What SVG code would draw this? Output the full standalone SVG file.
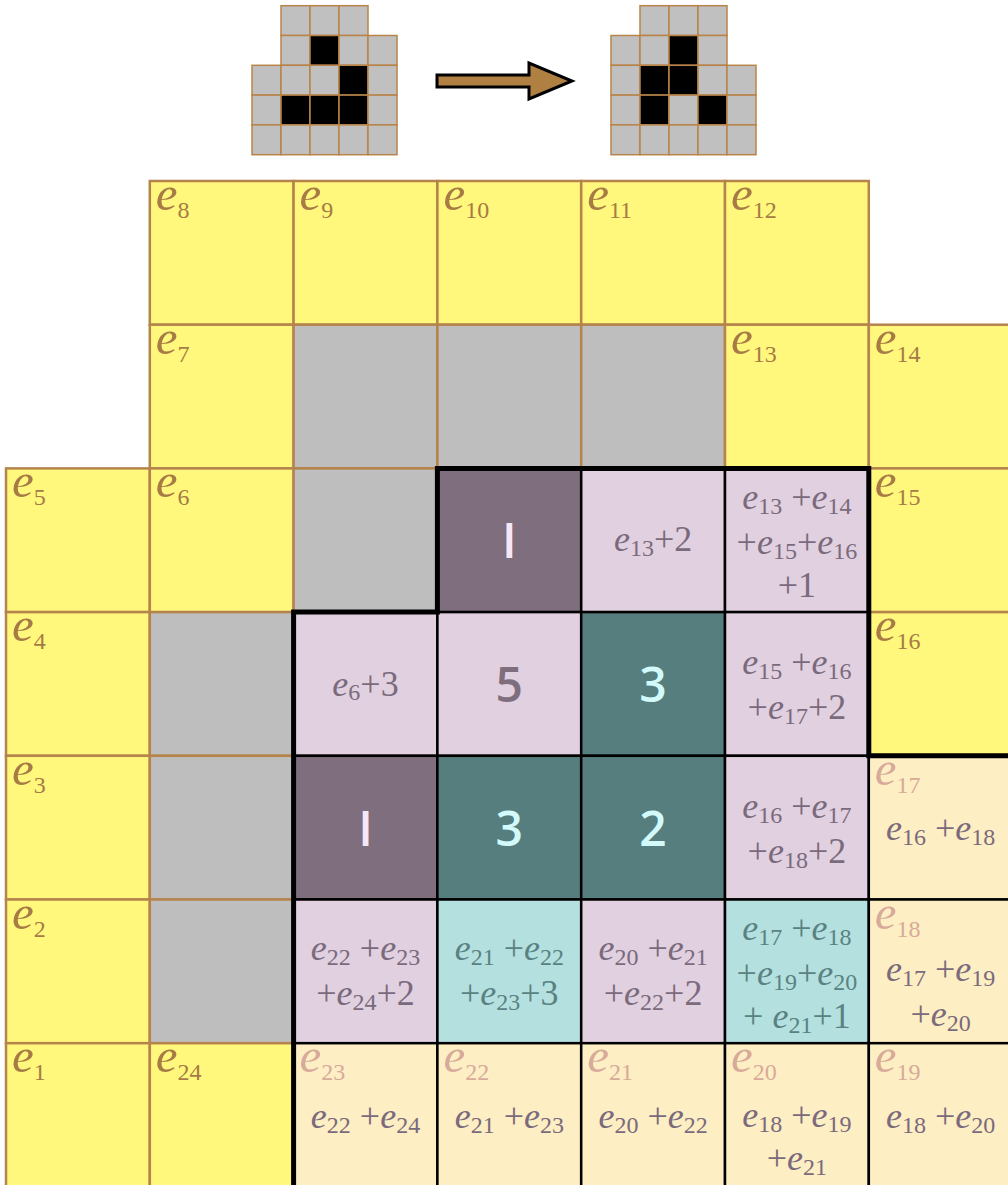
<svg xmlns="http://www.w3.org/2000/svg" width="1008" height="1185" viewBox="0 0 1008 1185">
<style>
.y{fill:#fff87c;stroke:#b5844c;stroke-width:2.5}
.g{fill:#bebebe;stroke:#b5844c;stroke-width:2.5}
.dp{fill:#7e6e7e;stroke:#000;stroke-width:2.5}
.lp{fill:#e0d0e0;stroke:#000;stroke-width:2.5}
.tl{fill:#567e7e;stroke:#000;stroke-width:2.5}
.cy{fill:#b4e0e0;stroke:#000;stroke-width:2.5}
.or{fill:#fdeec4;stroke:#000;stroke-width:2.5}
.sg{fill:#c0c0c0;stroke:#b8844a;stroke-width:1.5}
.sb{fill:#000;stroke:#b8844a;stroke-width:1.5}
.lbl{font-family:"Liberation Serif",serif;fill:#a67b45}
.pk{fill:#d8aa9a}
.e{font-style:italic;font-size:49px}
.sub{font-size:24px}
.f{font-family:"Liberation Serif",serif;font-size:36px;fill:#7a6a7c;text-anchor:middle}
.fc{fill:#5a8282}
.i{font-style:italic}
.s{font-size:24px}
.num{font-family:"Open Sans",sans-serif;font-weight:600;font-size:48px;text-anchor:middle}
</style>

<g id="small-grid-before">
<rect class="sg" x="281" y="5.7" width="29" height="29.8"/><rect class="sg" x="310" y="5.7" width="29" height="29.8"/><rect class="sg" x="339" y="5.7" width="29" height="29.8"/>
<rect class="sg" x="281" y="35.5" width="29" height="29.8"/><rect class="sb" x="310" y="35.5" width="29" height="29.8"/><rect class="sg" x="339" y="35.5" width="29" height="29.8"/><rect class="sg" x="368" y="35.5" width="29" height="29.8"/>
<rect class="sg" x="252" y="65.3" width="29" height="29.8"/><rect class="sg" x="281" y="65.3" width="29" height="29.8"/><rect class="sg" x="310" y="65.3" width="29" height="29.8"/><rect class="sb" x="339" y="65.3" width="29" height="29.8"/><rect class="sg" x="368" y="65.3" width="29" height="29.8"/>
<rect class="sg" x="252" y="95.1" width="29" height="29.8"/><rect class="sb" x="281" y="95.1" width="29" height="29.8"/><rect class="sb" x="310" y="95.1" width="29" height="29.8"/><rect class="sb" x="339" y="95.1" width="29" height="29.8"/><rect class="sg" x="368" y="95.1" width="29" height="29.8"/>
<rect class="sg" x="252" y="124.9" width="29" height="29.8"/><rect class="sg" x="281" y="124.9" width="29" height="29.8"/><rect class="sg" x="310" y="124.9" width="29" height="29.8"/><rect class="sg" x="339" y="124.9" width="29" height="29.8"/><rect class="sg" x="368" y="124.9" width="29" height="29.8"/>
</g>

<g id="small-grid-after">
<rect class="sg" x="640" y="5.7" width="29" height="29.8"/><rect class="sg" x="669" y="5.7" width="29" height="29.8"/><rect class="sg" x="698" y="5.7" width="29" height="29.8"/>
<rect class="sg" x="611" y="35.5" width="29" height="29.8"/><rect class="sg" x="640" y="35.5" width="29" height="29.8"/><rect class="sb" x="669" y="35.5" width="29" height="29.8"/><rect class="sg" x="698" y="35.5" width="29" height="29.8"/>
<rect class="sg" x="611" y="65.3" width="29" height="29.8"/><rect class="sb" x="640" y="65.3" width="29" height="29.8"/><rect class="sb" x="669" y="65.3" width="29" height="29.8"/><rect class="sg" x="698" y="65.3" width="29" height="29.8"/><rect class="sg" x="727" y="65.3" width="29" height="29.8"/>
<rect class="sg" x="611" y="95.1" width="29" height="29.8"/><rect class="sb" x="640" y="95.1" width="29" height="29.8"/><rect class="sg" x="669" y="95.1" width="29" height="29.8"/><rect class="sb" x="698" y="95.1" width="29" height="29.8"/><rect class="sg" x="727" y="95.1" width="29" height="29.8"/>
<rect class="sg" x="611" y="124.9" width="29" height="29.8"/><rect class="sg" x="640" y="124.9" width="29" height="29.8"/><rect class="sg" x="669" y="124.9" width="29" height="29.8"/><rect class="sg" x="698" y="124.9" width="29" height="29.8"/><rect class="sg" x="727" y="124.9" width="29" height="29.8"/>
</g>

<g id="connectors">
<polygon points="437,75 529,75 529,63 572,81 529,99 529,87 437,87" fill="#b07f42" stroke="#000" stroke-width="3" stroke-linejoin="miter"/>
</g>

<g id="boundary-cells">
<g id="c-e8"><rect class="y" x="149.8" y="181" width="143.8" height="143.7"/><text class="lbl" x="155.8" y="210"><tspan class="e">e</tspan><tspan class="sub" dy="8">8</tspan></text></g>
<g id="c-e9"><rect class="y" x="293.6" y="181" width="143.8" height="143.7"/><text class="lbl" x="299.6" y="210"><tspan class="e">e</tspan><tspan class="sub" dy="8">9</tspan></text></g>
<g id="c-e10"><rect class="y" x="437.4" y="181" width="143.8" height="143.7"/><text class="lbl" x="443.4" y="210"><tspan class="e">e</tspan><tspan class="sub" dy="8">10</tspan></text></g>
<g id="c-e11"><rect class="y" x="581.2" y="181" width="143.8" height="143.7"/><text class="lbl" x="587.2" y="210"><tspan class="e">e</tspan><tspan class="sub" dy="8">11</tspan></text></g>
<g id="c-e12"><rect class="y" x="725" y="181" width="143.8" height="143.7"/><text class="lbl" x="731" y="210"><tspan class="e">e</tspan><tspan class="sub" dy="8">12</tspan></text></g>

<g id="c-e7"><rect class="y" x="149.8" y="324.7" width="143.8" height="143.7"/><text class="lbl" x="155.8" y="353.7"><tspan class="e">e</tspan><tspan class="sub" dy="8">7</tspan></text></g>
<g id="c-g1"><rect class="g" x="293.6" y="324.7" width="143.8" height="143.7"/></g>
<g id="c-g2"><rect class="g" x="437.4" y="324.7" width="143.8" height="143.7"/></g>
<g id="c-g3"><rect class="g" x="581.2" y="324.7" width="143.8" height="143.7"/></g>
<g id="c-e13"><rect class="y" x="725" y="324.7" width="143.8" height="143.7"/><text class="lbl" x="731" y="353.7"><tspan class="e">e</tspan><tspan class="sub" dy="8">13</tspan></text></g>
<g id="c-e14"><rect class="y" x="868.8" y="324.7" width="143.8" height="143.7"/><text class="lbl" x="874.8" y="353.7"><tspan class="e">e</tspan><tspan class="sub" dy="8">14</tspan></text></g>

<g id="c-e5"><rect class="y" x="6" y="468.4" width="143.8" height="143.7"/><text class="lbl" x="12" y="497.4"><tspan class="e">e</tspan><tspan class="sub" dy="8">5</tspan></text></g>
<g id="c-e6"><rect class="y" x="149.8" y="468.4" width="143.8" height="143.7"/><text class="lbl" x="155.8" y="497.4"><tspan class="e">e</tspan><tspan class="sub" dy="8">6</tspan></text></g>
<g id="c-g4"><rect class="g" x="293.6" y="468.4" width="143.8" height="143.7"/></g>
<g id="c-e15"><rect class="y" x="868.8" y="468.4" width="143.8" height="143.7"/><text class="lbl" x="874.8" y="497.4"><tspan class="e">e</tspan><tspan class="sub" dy="8">15</tspan></text></g>

<g id="c-e4"><rect class="y" x="6" y="612.1" width="143.8" height="143.7"/><text class="lbl" x="12" y="641.1"><tspan class="e">e</tspan><tspan class="sub" dy="8">4</tspan></text></g>
<g id="c-g5"><rect class="g" x="149.8" y="612.1" width="143.8" height="143.7"/></g>
<g id="c-e16"><rect class="y" x="868.8" y="612.1" width="143.8" height="143.7"/><text class="lbl" x="874.8" y="641.1"><tspan class="e">e</tspan><tspan class="sub" dy="8">16</tspan></text></g>

<g id="c-e3"><rect class="y" x="6" y="755.8" width="143.8" height="143.7"/><text class="lbl" x="12" y="784.8"><tspan class="e">e</tspan><tspan class="sub" dy="8">3</tspan></text></g>
<g id="c-g6"><rect class="g" x="149.8" y="755.8" width="143.8" height="143.7"/></g>

<g id="c-e2"><rect class="y" x="6" y="899.5" width="143.8" height="143.7"/><text class="lbl" x="12" y="928.5"><tspan class="e">e</tspan><tspan class="sub" dy="8">2</tspan></text></g>
<g id="c-g7"><rect class="g" x="149.8" y="899.5" width="143.8" height="143.7"/></g>

<g id="c-e1"><rect class="y" x="6" y="1043.2" width="143.8" height="143.7"/><text class="lbl" x="12" y="1072.2"><tspan class="e">e</tspan><tspan class="sub" dy="8">1</tspan></text></g>
<g id="c-e24"><rect class="y" x="149.8" y="1043.2" width="143.8" height="143.7"/><text class="lbl" x="155.8" y="1072.2"><tspan class="e">e</tspan><tspan class="sub" dy="8">24</tspan></text></g>
</g>

<g id="inner-cells">
<g id="r2c3"><rect class="dp" x="437.4" y="468.4" width="143.8" height="143.7"/><text class="num" x="509.3" y="558.25" fill="#f6e6f6">I</text></g>
<g id="r2c4"><rect class="lp" x="581.2" y="468.4" width="143.8" height="143.7"/><text class="f" x="653.1" y="551.25"><tspan class="i">e</tspan><tspan class="s" dy="5">13</tspan><tspan dy="-5">+2</tspan></text></g>
<g id="r2c5"><rect class="lp" x="725" y="468.4" width="143.8" height="143.7"/>
<text class="f" x="796.9" y="509.25"><tspan class="i">e</tspan><tspan class="s" dy="5">13</tspan><tspan dy="-5"> +</tspan><tspan class="i">e</tspan><tspan class="s" dy="5">14</tspan></text>
<text class="f" x="796.9" y="554.25"><tspan>+</tspan><tspan class="i">e</tspan><tspan class="s" dy="5">15</tspan><tspan dy="-5">+</tspan><tspan class="i">e</tspan><tspan class="s" dy="5">16</tspan></text>
<text class="f" x="796.9" y="597.25">+1</text></g>

<g id="r3c2"><rect class="lp" x="293.6" y="612.1" width="143.8" height="143.7"/><text class="f" x="365.5" y="695.95"><tspan class="i">e</tspan><tspan class="s" dy="4">6</tspan><tspan dy="-4">+3</tspan></text></g>
<g id="r3c3"><rect class="lp" x="437.4" y="612.1" width="143.8" height="143.7"/><text class="num" x="509.3" y="701.95" fill="#7e6e7e">5</text></g>
<g id="r3c4"><rect class="tl" x="581.2" y="612.1" width="143.8" height="143.7"/><text class="num" x="653.1" y="701.95" fill="#d2fafa">3</text></g>
<g id="r3c5"><rect class="lp" x="725" y="612.1" width="143.8" height="143.7"/>
<text class="f" x="796.9" y="673.95"><tspan class="i">e</tspan><tspan class="s" dy="5">15</tspan><tspan dy="-5"> +</tspan><tspan class="i">e</tspan><tspan class="s" dy="5">16</tspan></text>
<text class="f" x="796.9" y="718.95"><tspan>+</tspan><tspan class="i">e</tspan><tspan class="s" dy="5">17</tspan><tspan dy="-5">+2</tspan></text></g>

<g id="r4c2"><rect class="dp" x="293.6" y="755.8" width="143.8" height="143.7"/><text class="num" x="365.5" y="845.65" fill="#f6e6f6">I</text></g>
<g id="r4c3"><rect class="tl" x="437.4" y="755.8" width="143.8" height="143.7"/><text class="num" x="509.3" y="845.65" fill="#d2fafa">3</text></g>
<g id="r4c4"><rect class="tl" x="581.2" y="755.8" width="143.8" height="143.7"/><text class="num" x="653.1" y="845.65" fill="#d2fafa">2</text></g>
<g id="r4c5"><rect class="lp" x="725" y="755.8" width="143.8" height="143.7"/>
<text class="f" x="796.9" y="817.65"><tspan class="i">e</tspan><tspan class="s" dy="5">16</tspan><tspan dy="-5"> +</tspan><tspan class="i">e</tspan><tspan class="s" dy="5">17</tspan></text>
<text class="f" x="796.9" y="862.65"><tspan>+</tspan><tspan class="i">e</tspan><tspan class="s" dy="5">18</tspan><tspan dy="-5">+2</tspan></text></g>
<g id="r4c6"><rect class="or" x="868.8" y="755.8" width="143.8" height="143.7"/><text class="lbl pk" x="874.8" y="784.8"><tspan class="e">e</tspan><tspan class="sub" dy="8">17</tspan></text>
<text class="f" x="940.7" y="839.65"><tspan class="i">e</tspan><tspan class="s" dy="5">16</tspan><tspan dy="-5"> +</tspan><tspan class="i">e</tspan><tspan class="s" dy="5">18</tspan></text></g>

<g id="r5c2"><rect class="lp" x="293.6" y="899.5" width="143.8" height="143.7"/>
<text class="f" x="365.5" y="960.35"><tspan class="i">e</tspan><tspan class="s" dy="5">22</tspan><tspan dy="-5"> +</tspan><tspan class="i">e</tspan><tspan class="s" dy="5">23</tspan></text>
<text class="f" x="365.5" y="1005.35"><tspan>+</tspan><tspan class="i">e</tspan><tspan class="s" dy="5">24</tspan><tspan dy="-5">+2</tspan></text></g>
<g id="r5c3"><rect class="cy" x="437.4" y="899.5" width="143.8" height="143.7"/>
<text class="f fc" x="509.3" y="960.35"><tspan class="i">e</tspan><tspan class="s" dy="5">21</tspan><tspan dy="-5"> +</tspan><tspan class="i">e</tspan><tspan class="s" dy="5">22</tspan></text>
<text class="f fc" x="509.3" y="1005.35"><tspan>+</tspan><tspan class="i">e</tspan><tspan class="s" dy="5">23</tspan><tspan dy="-5">+3</tspan></text></g>
<g id="r5c4"><rect class="lp" x="581.2" y="899.5" width="143.8" height="143.7"/>
<text class="f" x="653.1" y="960.35"><tspan class="i">e</tspan><tspan class="s" dy="5">20</tspan><tspan dy="-5"> +</tspan><tspan class="i">e</tspan><tspan class="s" dy="5">21</tspan></text>
<text class="f" x="653.1" y="1005.35"><tspan>+</tspan><tspan class="i">e</tspan><tspan class="s" dy="5">22</tspan><tspan dy="-5">+2</tspan></text></g>
<g id="r5c5"><rect class="cy" x="725" y="899.5" width="143.8" height="143.7"/>
<text class="f fc" x="796.9" y="940.35"><tspan class="i">e</tspan><tspan class="s" dy="5">17</tspan><tspan dy="-5"> +</tspan><tspan class="i">e</tspan><tspan class="s" dy="5">18</tspan></text>
<text class="f fc" x="796.9" y="985.35"><tspan>+</tspan><tspan class="i">e</tspan><tspan class="s" dy="5">19</tspan><tspan dy="-5">+</tspan><tspan class="i">e</tspan><tspan class="s" dy="5">20</tspan></text>
<text class="f fc" x="796.9" y="1028.35"><tspan>+ </tspan><tspan class="i">e</tspan><tspan class="s" dy="5">21</tspan><tspan dy="-5">+1</tspan></text></g>
<g id="r5c6"><rect class="or" x="868.8" y="899.5" width="143.8" height="143.7"/><text class="lbl pk" x="874.8" y="928.5"><tspan class="e">e</tspan><tspan class="sub" dy="8">18</tspan></text>
<text class="f" x="940.7" y="981.35"><tspan class="i">e</tspan><tspan class="s" dy="5">17</tspan><tspan dy="-5"> +</tspan><tspan class="i">e</tspan><tspan class="s" dy="5">19</tspan></text>
<text class="f" x="940.7" y="1026.35"><tspan>+</tspan><tspan class="i">e</tspan><tspan class="s" dy="5">20</tspan></text></g>

<g id="r6c2"><rect class="or" x="293.6" y="1043.2" width="143.8" height="143.7"/><text class="lbl pk" x="299.6" y="1072.2"><tspan class="e">e</tspan><tspan class="sub" dy="8">23</tspan></text>
<text class="f" x="365.5" y="1128.05"><tspan class="i">e</tspan><tspan class="s" dy="5">22</tspan><tspan dy="-5"> +</tspan><tspan class="i">e</tspan><tspan class="s" dy="5">24</tspan></text></g>
<g id="r6c3"><rect class="or" x="437.4" y="1043.2" width="143.8" height="143.7"/><text class="lbl pk" x="443.4" y="1072.2"><tspan class="e">e</tspan><tspan class="sub" dy="8">22</tspan></text>
<text class="f" x="509.3" y="1128.05"><tspan class="i">e</tspan><tspan class="s" dy="5">21</tspan><tspan dy="-5"> +</tspan><tspan class="i">e</tspan><tspan class="s" dy="5">23</tspan></text></g>
<g id="r6c4"><rect class="or" x="581.2" y="1043.2" width="143.8" height="143.7"/><text class="lbl pk" x="587.2" y="1072.2"><tspan class="e">e</tspan><tspan class="sub" dy="8">21</tspan></text>
<text class="f" x="653.1" y="1128.05"><tspan class="i">e</tspan><tspan class="s" dy="5">20</tspan><tspan dy="-5"> +</tspan><tspan class="i">e</tspan><tspan class="s" dy="5">22</tspan></text></g>
<g id="r6c5"><rect class="or" x="725" y="1043.2" width="143.8" height="143.7"/><text class="lbl pk" x="731" y="1072.2"><tspan class="e">e</tspan><tspan class="sub" dy="8">20</tspan></text>
<text class="f" x="796.9" y="1127"><tspan class="i">e</tspan><tspan class="s" dy="5">18</tspan><tspan dy="-5"> +</tspan><tspan class="i">e</tspan><tspan class="s" dy="5">19</tspan></text>
<text class="f" x="796.9" y="1170"><tspan>+</tspan><tspan class="i">e</tspan><tspan class="s" dy="5">21</tspan></text></g>
<g id="r6c6"><rect class="or" x="868.8" y="1043.2" width="143.8" height="143.7"/><text class="lbl pk" x="874.8" y="1072.2"><tspan class="e">e</tspan><tspan class="sub" dy="8">19</tspan></text>
<text class="f" x="940.7" y="1128.05"><tspan class="i">e</tspan><tspan class="s" dy="5">18</tspan><tspan dy="-5"> +</tspan><tspan class="i">e</tspan><tspan class="s" dy="5">20</tspan></text></g>
</g>

<g id="outline">
<path d="M437.4,468.4 H868.8 V755.8 H1012 M437.4,468.4 V612.1 H293.6 V1190" fill="none" stroke="#000" stroke-width="5" stroke-linecap="square" stroke-linejoin="miter"/>
</g>
</svg>
